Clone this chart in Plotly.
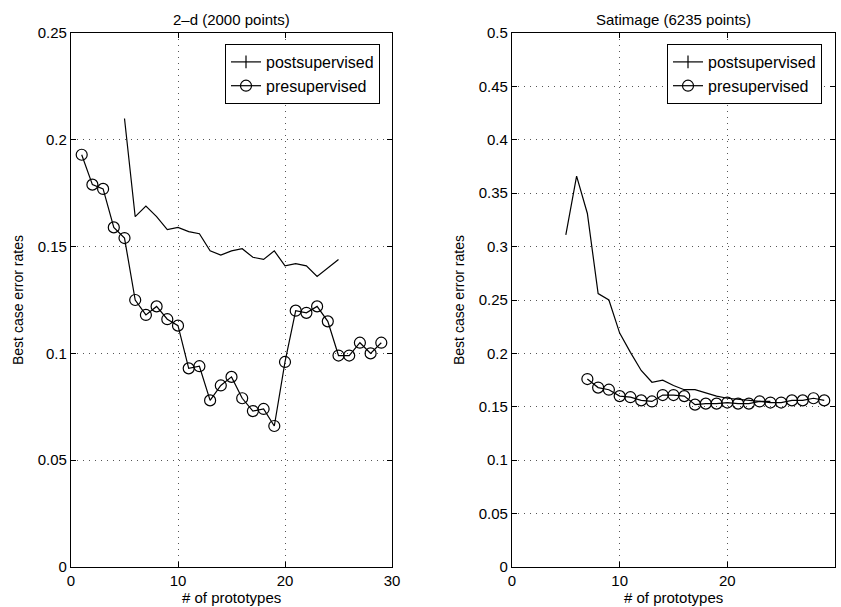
import plotly.graph_objects as go

# ---- data ----
x_left_pre = list(range(1, 30))
y_left_pre = [0.193, 0.179, 0.177, 0.159, 0.154, 0.125, 0.118, 0.122, 0.116, 0.113,
              0.093, 0.094, 0.078, 0.085, 0.089, 0.079, 0.073, 0.074, 0.066, 0.096,
              0.120, 0.119, 0.122, 0.115, 0.099, 0.099, 0.105, 0.100, 0.105]
x_left_post = list(range(5, 26))
y_left_post = [0.210, 0.164, 0.169, 0.164, 0.158, 0.159, 0.157, 0.156, 0.148, 0.146,
               0.148, 0.149, 0.145, 0.144, 0.148, 0.141, 0.142, 0.141, 0.136, 0.140, 0.144]

x_right_post = list(range(5, 25))
y_right_post = [0.311, 0.366, 0.331, 0.256, 0.250, 0.219, 0.201, 0.184, 0.173, 0.175,
                0.170, 0.166, 0.166, 0.163, 0.160, 0.158, 0.157, 0.156, 0.155, 0.155]
x_right_pre = list(range(7, 30))
y_right_pre = [0.176, 0.168, 0.166, 0.160, 0.159, 0.156, 0.155, 0.161, 0.161, 0.160,
               0.152, 0.153, 0.153, 0.154, 0.153, 0.153, 0.155, 0.154, 0.154, 0.156,
               0.156, 0.158, 0.156]

x_ticks = [0, 10, 20, 30]
left_y_ticks = [0, 0.05, 0.1, 0.15, 0.2, 0.25]
left_y_labels = ["0", "0.05", "0.1", "0.15", "0.2", "0.25"]
right_y_ticks = [0, 0.05, 0.1, 0.15, 0.2, 0.25, 0.3, 0.35, 0.4, 0.45, 0.5]
right_y_labels = ["0", "0.05", "0.1", "0.15", "0.2", "0.25", "0.3", "0.35", "0.4", "0.45", "0.5"]

titles = ["2\u2013d (2000 points)", "Satimage (6235 points)"]
x_title = "# of prototypes"
y_title = "Best case error rates"
series_names = ["postsupervised", "presupervised"]

FONT = "Liberation Sans, Arial, Helvetica, sans-serif"
W, H = 841, 607

fig = go.Figure()

def add_panel(xa, ya, legend, xpost, ypost, xpre, ypre):
    # data traces
    fig.add_trace(go.Scatter(x=xpost, y=ypost, mode="lines", xaxis=xa, yaxis=ya,
                             line=dict(color="black", width=1.2), showlegend=False))
    fig.add_trace(go.Scatter(x=xpre, y=ypre, mode="lines+markers", xaxis=xa, yaxis=ya,
                             line=dict(color="black", width=1.2),
                             marker=dict(symbol="circle-open", size=11, color="black",
                                         line=dict(width=1.2)),
                             showlegend=False))
    # legend entries
    fig.add_trace(go.Scatter(x=[None], y=[None], mode="lines+markers", xaxis=xa, yaxis=ya,
                             name=series_names[0], legend=legend,
                             line=dict(color="black", width=1.2),
                             marker=dict(symbol="line-ns-open", size=9, color="black",
                                         line=dict(width=1.2))))
    fig.add_trace(go.Scatter(x=[None], y=[None], mode="lines+markers", xaxis=xa, yaxis=ya,
                             name=series_names[1], legend=legend,
                             line=dict(color="black", width=1.2),
                             marker=dict(symbol="circle-open", size=11, color="black",
                                         line=dict(width=1.2))))

add_panel("x", "y", "legend", x_left_post, y_left_post, x_left_pre, y_left_pre)
add_panel("x2", "y2", "legend2", x_right_post, y_right_post, x_right_pre, y_right_pre)

ydom = [1 - 567 / H, 1 - 33 / H]
lx = [71 / W, 392 / W]
rx = [512 / W, 835 / W]

axis_common = dict(showline=True, linecolor="black", linewidth=1.3, mirror="ticks",
                   ticks="inside", ticklen=5, tickcolor="black", tickwidth=1,
                   showgrid=True, gridcolor="#555", griddash="1px,5px", gridwidth=1,
                   zeroline=False, automargin=False,
                   tickfont=dict(family=FONT, size=15, color="black"))

legend_common = dict(y=1 - 44 / H, xanchor="right", yanchor="top",
                     bgcolor="white", bordercolor="black", borderwidth=1,
                     font=dict(family=FONT, size=16, color="black"),
                     tracegroupgap=0, itemsizing="trace")

fig.update_layout(
    width=W, height=H, margin=dict(l=0, r=0, t=0, b=0),
    paper_bgcolor="white", plot_bgcolor="white",
    font=dict(family=FONT, color="black"),
    xaxis=dict(domain=lx, range=[0, 30], tickvals=x_ticks, anchor="y", **axis_common),
    yaxis=dict(domain=ydom, range=[0, 0.25], tickvals=left_y_ticks, ticktext=left_y_labels,
               anchor="x", **axis_common),
    xaxis2=dict(domain=rx, range=[0, 30], tickvals=x_ticks, anchor="y2", **axis_common),
    yaxis2=dict(domain=ydom, range=[0, 0.5], tickvals=right_y_ticks, ticktext=right_y_labels,
                anchor="x2", **axis_common),
    legend=dict(x=380 / W, **legend_common),
    legend2=dict(x=822 / W, **legend_common),
)

ann = []
for title, cx in [(titles[0], (lx[0] + lx[1]) / 2), (titles[1], (rx[0] + rx[1]) / 2)]:
    ann.append(dict(text=title, x=cx, y=1 - 20 / H, xref="paper", yref="paper",
                    xanchor="center", yanchor="middle", showarrow=False,
                    font=dict(family=FONT, size=15, color="black")))
    ann.append(dict(text=x_title, x=cx, y=1 - 597 / H, xref="paper", yref="paper",
                    xanchor="center", yanchor="middle", showarrow=False,
                    font=dict(family=FONT, size=15, color="black")))
for px in [18, 459]:
    ann.append(dict(text=y_title, x=px / W, y=1 - 300 / H, xref="paper", yref="paper",
                    xanchor="center", yanchor="middle", showarrow=False, textangle=-90,
                    font=dict(family=FONT, size=14, color="black")))
fig.update_layout(annotations=ann)

fig.write_html("out.html")
